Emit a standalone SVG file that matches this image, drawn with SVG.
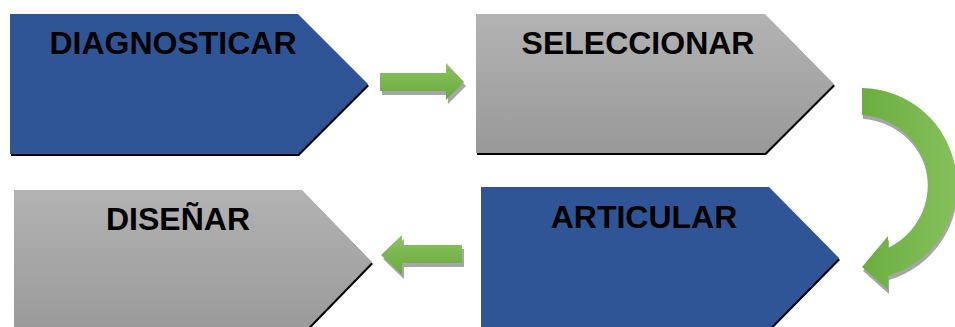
<svg xmlns="http://www.w3.org/2000/svg" width="955" height="327" viewBox="0 0 955 327">
<defs>
<linearGradient id="gray" x1="0" y1="0" x2="0" y2="1">
<stop offset="0" stop-color="#b3b3b3"/>
<stop offset="1" stop-color="#999999"/>
</linearGradient>
<linearGradient id="greenV" x1="0" y1="0" x2="0" y2="1">
<stop offset="0" stop-color="#8cc461"/>
<stop offset="1" stop-color="#66aa3b"/>
</linearGradient>
<linearGradient id="greenH" x1="0" y1="0" x2="1" y2="0">
<stop offset="0" stop-color="#6aae3f"/>
<stop offset="1" stop-color="#86c05c"/>
</linearGradient>
</defs>
<style>
.lbl{font-family:"Liberation Sans",Arial,sans-serif;font-weight:bold;font-size:32px;fill:#000;text-anchor:middle}
.blue{fill:#2f5597}
.grayf{fill:url(#gray)}
.shd{fill:#000}
.ashd{fill:#a6a6a6}
</style>
<rect width="955" height="327" fill="#fff"/>
<g id="connectors">
<g id="arrow1">
<path class="ashd" transform="translate(2,4)" d="M380 73 H446 V63 L464 82 L446 100 V91 H380 Z"/>
<path fill="url(#greenV)" d="M380 73 H446 V63 L464 82 L446 100 V91 H380 Z"/>
</g>
<g id="arrow2">
<path class="ashd" transform="translate(2,4)" d="M462 245 H402 V235 L381 255 L402 275 V263 H462 Z"/>
<path fill="url(#greenV)" d="M462 245 H402 V235 L381 255 L402 275 V263 H462 Z"/>
</g>
<g id="arrow3">
<path class="ashd" transform="translate(1,4)" d="M862 88 A96 96 0 0 1 888 276 L888 290 L862 267 L888 236 L888 248 A70 70 0 0 0 862 115 Z"/>
<path fill="url(#greenH)" d="M862 88 A96 96 0 0 1 888 276 L888 290 L862 267 L888 236 L888 248 A70 70 0 0 0 862 115 Z"/>
</g>
</g>
<g id="node-diagnosticar">
<path class="shd" transform="translate(1,2)" d="M10 14 H298 L368 84 L298 154 H10 Z"/>
<path class="blue" d="M10 14 H298 L368 84 L298 154 H10 Z"/>
<text class="lbl" x="173" y="54">DIAGNOSTICAR</text>
</g>
<g id="node-seleccionar">
<path class="shd" transform="translate(1,2)" d="M476 14 H765 L834 84 L765 153 H476 Z"/>
<path class="grayf" d="M476 14 H765 L834 84 L765 153 H476 Z"/>
<text class="lbl" x="638" y="54">SELECCIONAR</text>
</g>
<g id="node-articular">
<path class="shd" transform="translate(1,2)" d="M481 187 H769 L839 258 L769 329 H481 Z"/>
<path class="blue" d="M481 187 H769 L839 258 L769 329 H481 Z"/>
<text class="lbl" x="644" y="228">ARTICULAR</text>
</g>
<g id="node-disenar">
<path class="shd" transform="translate(1,2)" d="M14 190 H302 L372 262 L302 334 H14 Z"/>
<path class="grayf" d="M14 190 H302 L372 262 L302 334 H14 Z"/>
<text class="lbl" x="178" y="230">DISEÑAR</text>
</g>
</svg>
